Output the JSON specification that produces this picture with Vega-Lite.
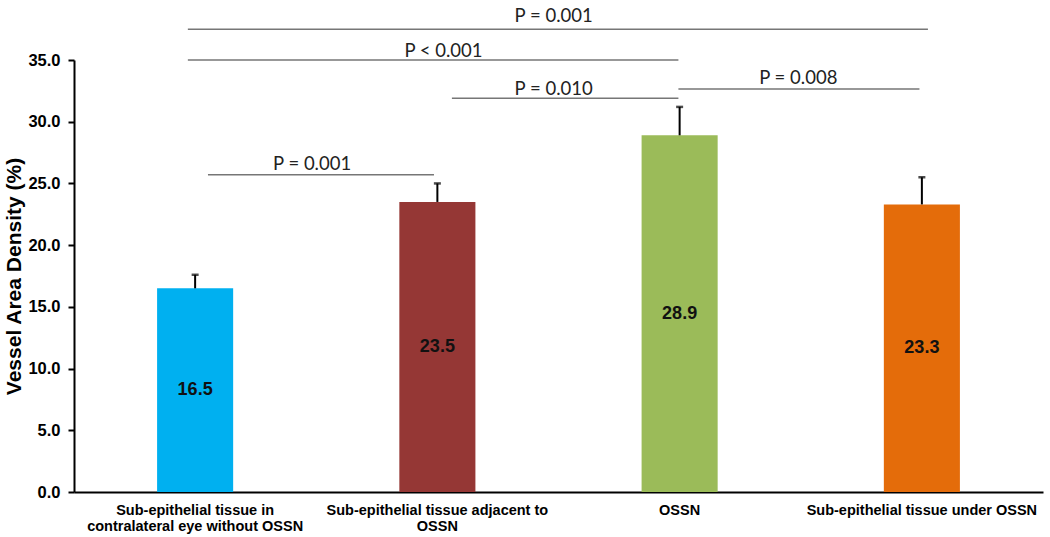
{
  "$schema": "https://vega.github.io/schema/vega-lite/v6.json",
  "width": 969,
  "height": 432,
  "autosize": "none",
  "padding": {"left": 74, "top": 60, "right": 7, "bottom": 45},
  "config": {"view": {"stroke": null}},
  "datasets": {
    "bars": [
      {"group": "Sub-epithelial tissue in contralateral eye without OSSN", "value": 16.5, "upper": 17.6},
      {"group": "Sub-epithelial tissue adjacent to OSSN", "value": 23.5, "upper": 25.0},
      {"group": "OSSN", "value": 28.9, "upper": 31.2},
      {"group": "Sub-epithelial tissue under OSSN", "value": 23.3, "upper": 25.5}
    ],
    "brackets": [
      {"label": "P = 0.001", "x1": 0.47, "x2": 3.525, "y": 37.5, "tx": 1.98, "ty": 38.08},
      {"label": "P < 0.001", "x1": 0.47, "x2": 2.495, "y": 35.0, "tx": 1.525, "ty": 35.25},
      {"label": "P = 0.010", "x1": 1.56, "x2": 2.495, "y": 31.9, "tx": 1.98, "ty": 32.17},
      {"label": "P = 0.008", "x1": 2.495, "x2": 3.49, "y": 32.65, "tx": 2.99, "ty": 33.06},
      {"label": "P = 0.001", "x1": 0.553, "x2": 1.486, "y": 25.7, "tx": 0.983, "ty": 26.11}
    ]
  },
  "layer": [
    {
      "data": {"name": "bars"},
      "encoding": {
        "x": {
          "field": "group",
          "type": "nominal",
          "sort": null,
          "scale": {"paddingInner": 0.686, "paddingOuter": 0.343},
          "axis": {
            "title": null,
            "labelAngle": 0,
            "ticks": false,
            "labelFont": "Liberation Sans",
            "labelFontWeight": "bold",
            "labelFontSize": 14.5,
            "labelColor": "#000000",
            "labelPadding": 11,
            "labelLineHeight": 16.5,
            "labelLimit": 300,
            "domainColor": "#000000",
            "domainWidth": 2,
            "labelExpr": "datum.label == 'Sub-epithelial tissue in contralateral eye without OSSN' ? ['Sub-epithelial tissue in', 'contralateral eye without OSSN'] : datum.label == 'Sub-epithelial tissue adjacent to OSSN' ? ['Sub-epithelial tissue adjacent to', 'OSSN'] : datum.label"
          }
        }
      },
      "layer": [
        {
          "mark": {"type": "bar"},
          "encoding": {
            "y": {
              "field": "value",
              "type": "quantitative",
              "scale": {"domain": [0, 35], "nice": false},
              "axis": {
                "title": "Vessel Area Density (%)",
                "values": [0, 5, 10, 15, 20, 25, 30, 35],
                "format": ".1f",
                "grid": false,
                "labelFont": "Liberation Sans",
                "labelFontWeight": "bold",
                "labelFontSize": 16.5,
                "labelColor": "#000000",
                "labelPadding": 8,
                "tickColor": "#000000",
                "tickSize": 6,
                "tickWidth": 2,
                "domainColor": "#000000",
                "domainWidth": 2,
                "titleFont": "Liberation Sans",
                "titleFontWeight": "bold",
                "titleFontSize": 21,
                "titleColor": "#000000",
                "titlePadding": 3
              }
            },
            "color": {
              "field": "group",
              "type": "nominal",
              "sort": null,
              "scale": {"range": ["#00B0F0", "#953735", "#9BBB59", "#E46C0A"]},
              "legend": null
            }
          }
        },
        {
          "mark": {"type": "rule", "color": "#000000", "strokeWidth": 2},
          "encoding": {
            "y": {"field": "value", "type": "quantitative"},
            "y2": {"field": "upper"}
          }
        },
        {
          "mark": {"type": "tick", "color": "#000000", "thickness": 2.5, "size": 7, "orient": "horizontal"},
          "encoding": {
            "y": {"field": "upper", "type": "quantitative"}
          }
        },
        {
          "transform": [{"calculate": "datum.value / 2", "as": "mid"}],
          "mark": {"type": "text", "font": "Liberation Sans", "fontWeight": "bold", "fontSize": 18, "color": "#111111", "baseline": "middle"},
          "encoding": {
            "y": {"field": "mid", "type": "quantitative"},
            "text": {"field": "value", "type": "quantitative", "format": ".1f"}
          }
        }
      ]
    },
    {
      "data": {"name": "brackets"},
      "encoding": {
        "x": {"field": "x1", "type": "quantitative", "scale": {"domain": [0, 4], "nice": false, "zero": false}, "axis": null}
      },
      "layer": [
        {
          "mark": {"type": "rule", "color": "#767676", "strokeWidth": 1.5},
          "encoding": {
            "x2": {"field": "x2"},
            "y": {"field": "y", "type": "quantitative"}
          }
        },
        {
          "mark": {"type": "text", "font": "Lato", "fontSize": 18.5, "color": "#222222", "baseline": "alphabetic", "align": "center"},
          "encoding": {
            "x": {"field": "tx", "type": "quantitative"},
            "y": {"field": "ty", "type": "quantitative"},
            "text": {"field": "label", "type": "nominal"}
          }
        }
      ]
    }
  ],
  "resolve": {"scale": {"x": "independent"}}
}
